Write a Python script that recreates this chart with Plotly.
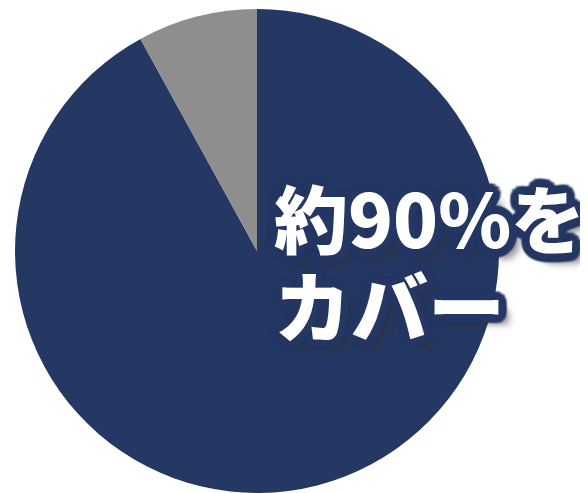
import plotly.graph_objects as go
import math

labels = ["カバー", "その他"]
values = [92, 8]
colors = ["#253763", "#8e8e8e"]
text_lines = ["約90%を", "カバー"]

W, H = 588, 493
OFF = 8  # page body margin compensation
cx, cy, r = 257 - OFF, 251 - OFF, 242

fig = go.Figure(go.Pie(
    labels=labels, values=values, sort=False, direction="clockwise", rotation=0,
    marker=dict(colors=colors, line=dict(width=0)), textinfo="none", hoverinfo="label+percent",
    showlegend=False,
    domain=dict(x=[(cx - r) / W, (cx + r) / W], y=[(H - cy - r) / H, (H - cy + r) / H]),
))

parts = []
for k in range(20):
    a = 2 * math.pi * k / 20
    parts.append(f"{8*math.cos(a):.1f}px {8*math.sin(a):.1f}px 2px #253763")
parts.append("10px 10px 7px rgba(50,50,50,0.55)")
shadow = ", ".join(parts)

ys = [215 - OFF, 303 - OFF]
sizes = [74, 77]
for t, y, s in zip(text_lines, ys, sizes):
    fig.add_annotation(
        text=t, x=(272 - OFF) / W, y=(H - y) / H, xref="paper", yref="paper",
        xanchor="left", yanchor="middle", showarrow=False,
        font=dict(family="Noto Sans CJK JP", size=s, color="white", weight=900, shadow=shadow),
    )

fig.update_layout(width=W, height=H, margin=dict(l=0, r=0, t=0, b=0),
                  paper_bgcolor="white", plot_bgcolor="white")
fig.write_html("out.html")
